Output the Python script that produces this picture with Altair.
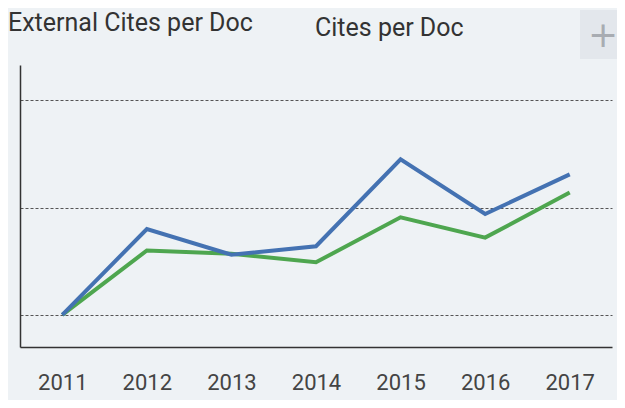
import altair as alt
import pandas as pd

years = ["2011", "2012", "2013", "2014", "2015", "2016", "2017"]
series_names = ["External Cites per Doc", "Cites per Doc"]
external_cites = [0.0, 0.60, 0.57, 0.49, 0.91, 0.72, 1.14]
cites = [0.0, 0.80, 0.56, 0.64, 1.45, 0.94, 1.31]
grid_values = [0, 1, 2]

rows = []
for y, v in zip(years, external_cites):
    rows.append({"year": y, "series": series_names[0], "value": v})
for y, v in zip(years, cites):
    rows.append({"year": y, "series": series_names[1], "value": v})
df = pd.DataFrame(rows)

W, H = 592, 282

lines = alt.Chart(df).mark_line(strokeWidth=4, strokeJoin="miter").encode(
    x=alt.X("year:O", sort=years, scale=alt.Scale(type="point", padding=0.5),
            axis=alt.Axis(title=None, labelAngle=0, labelFontSize=22, labelColor="#444",
                          labelFont="Roboto", ticks=False, labelPadding=25,
                          domainColor="#333", domainWidth=1.5, grid=False)),
    y=alt.Y("value:Q", scale=alt.Scale(domain=[-0.3, 2.33], nice=False, zero=False),
            axis=alt.Axis(title=None, labels=False, ticks=False, values=grid_values,
                          grid=True, gridColor="#555", gridDash=[3, 2], gridWidth=1,
                          domainColor="#333", domainWidth=1.5)),
    color=alt.Color("series:N", sort=series_names,
                    scale=alt.Scale(domain=series_names, range=["#4ea64f", "#4472b2"]),
                    legend=None),
    order=alt.Order("series:N"),
)

def legend_label(name, xpos, ypos):
    return alt.Chart(pd.DataFrame({"label": [name]})).mark_text(
        fontSize=25, font="Roboto", fontWeight="normal", color="#333",
        align="left", baseline="middle"
    ).encode(x=alt.value(xpos), y=alt.value(ypos), text="label:N")

leg1 = legend_label(series_names[0], -12, -42)
leg2 = legend_label(series_names[1], 295, -37)

plus_box = alt.Chart(pd.DataFrame({"k": [0]})).mark_rect(color="#e3e7ec").encode(
    x=alt.value(560), x2=alt.value(605), y=alt.value(-55), y2=alt.value(-6)
)
plus = alt.Chart(pd.DataFrame({"k": ["+"]})).mark_text(
    fontSize=36, color="#a8acb2", font="DejaVu Sans", fontWeight="normal"
).encode(x=alt.value(583), y=alt.value(-29), text="k:N")

chart = alt.layer(plus_box, plus, leg1, leg2, lines).properties(
    width=W, height=H,
    background="#eef2f5",
    padding={"left": 12, "top": 57, "right": 5, "bottom": 53},
    autosize=alt.AutoSizeParams(type="none"),
).configure_view(stroke=None)

chart.save("out.html", embed_options={"renderer": "svg", "actions": False})
